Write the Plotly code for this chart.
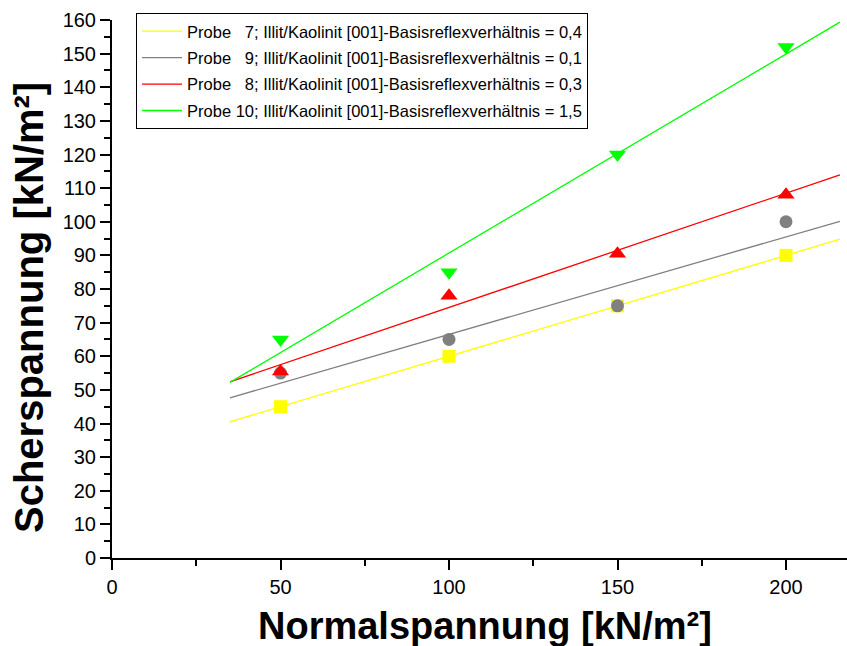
import numpy as np
import plotly.graph_objects as go

normal = [50, 100, 150, 200]
probe7 = [45, 60, 75, 90]
probe9 = [55, 65, 75, 100]
probe8 = [55.5, 78, 90.5, 108]
probe10 = [65, 85, 120, 152]
fit_range = [35, 216]

names = [
    "Probe \u00a0\u00a07; Illit/Kaolinit [001]-Basisreflexverhältnis = 0,4",
    "Probe \u00a0\u00a09; Illit/Kaolinit [001]-Basisreflexverhältnis = 0,1",
    "Probe \u00a0\u00a08; Illit/Kaolinit [001]-Basisreflexverhältnis = 0,3",
    "Probe 10; Illit/Kaolinit [001]-Basisreflexverhältnis = 1,5",
]
series = [probe7, probe9, probe8, probe10]
colors = ["#FFFF00", "#808080", "#FF0000", "#00FF00"]
symbols = ["square", "circle", "triangle-up", "triangle-down"]
sizes = [13, 13, 15, 15]

FONT = "Liberation Sans, Arial, sans-serif"
fig = go.Figure()
fx = np.array(fit_range, dtype=float)
for i, (nm, ys, c) in enumerate(zip(names, series, colors)):
    k, d = np.polyfit(normal, ys, 1)
    fig.add_trace(go.Scatter(x=fx, y=k * fx + d, mode="lines", name=nm,
                             line=dict(color=c, width=1.3), legendgroup=f"g{i}"))
for ys, c, s, sz in zip(series, colors, symbols, sizes):
    fig.add_trace(go.Scatter(x=normal, y=ys, mode="markers", showlegend=False,
                             marker=dict(symbol=s, color=c, size=sz, line=dict(width=0))))

fig.update_layout(
    width=847, height=646,
    margin=dict(l=112, r=0, t=20, b=88, autoexpand=False),
    plot_bgcolor="white", paper_bgcolor="white",
    font=dict(family=FONT, color="black"),
    showlegend=True,
    legend=dict(xref="container", yref="container", x=0.1606, y=0.98,
                xanchor="left", yanchor="top",
                bgcolor="white", bordercolor="black", borderwidth=1,
                font=dict(size=16.5, family=FONT), tracegroupgap=2,
                itemwidth=40),
    annotations=[
        dict(text="<b>Normalspannung [kN/m²]</b>", xref="paper", yref="paper",
             x=0.5075, y=0, yshift=-68, xanchor="center", yanchor="middle",
             showarrow=False, font=dict(size=38, family=FONT)),
        dict(text="<b>Scherspannung [kN/m²]</b>", xref="paper", yref="paper",
             x=0, xshift=-83, y=0.5, yshift=-19, xanchor="center", yanchor="middle",
             textangle=-90, showarrow=False, font=dict(size=40, family=FONT)),
    ],
)
fig.update_xaxes(range=[0, 218.1], tickvals=[0, 50, 100, 150, 200],
                 showgrid=False, zeroline=False, showline=True, linecolor="black",
                 linewidth=2, ticks="outside", ticklen=10, tickwidth=2, tickcolor="black",
                 minor=dict(dtick=25, ticks="outside", ticklen=6, tickwidth=2, tickcolor="black"),
                 tickfont=dict(size=20, family=FONT))
fig.update_yaxes(range=[0, 160], dtick=10, tick0=0,
                 showgrid=False, zeroline=False, showline=True, linecolor="black",
                 linewidth=2, ticks="outside", ticklen=10, tickwidth=2, tickcolor="black",
                 minor=dict(dtick=5, ticks="outside", ticklen=6, tickwidth=2, tickcolor="black"),
                 tickfont=dict(size=20, family=FONT))

fig.write_html("out.html", config={"displayModeBar": False},
               post_script="document.body.style.margin='0';document.body.style.padding='0';")
